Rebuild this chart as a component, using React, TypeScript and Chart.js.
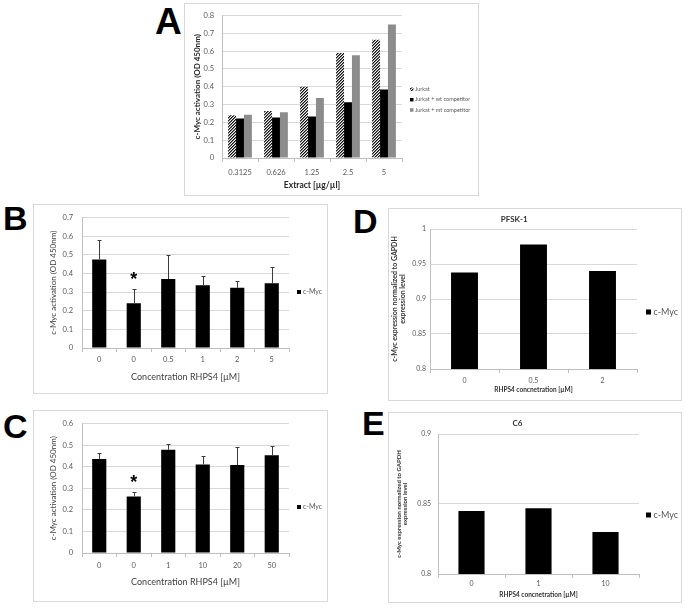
import React, { useEffect, useRef } from "react";
import { Chart, registerables } from "chart.js";
Chart.register(...registerables);

const SANS = "Lato, 'Liberation Sans', Arial, sans-serif";
Chart.defaults.font.family = SANS;

// ---------- Panel A ----------
const A_EXTRACT = ["0.3125", "0.626", "1.25", "2.5", "5"];
const A_JURKAT = [0.24, 0.264, 0.4, 0.59, 0.664];
const A_WT = [0.222, 0.228, 0.233, 0.313, 0.385];
const A_MT = [0.243, 0.257, 0.337, 0.577, 0.75];
const A_SERIES = ["Jurkat", "Jurkat + wt competitor", "Jurkat + mt competitor"];

// ---------- Panel B ----------
const B_CONC = ["0", "0", "0.5", "1", "2", "5"];
const B_VALUES = [0.475, 0.24, 0.37, 0.337, 0.323, 0.347];
const B_ERRORS = [0.105, 0.074, 0.128, 0.051, 0.034, 0.085];
const B_STARS = [1];

// ---------- Panel C ----------
const C_CONC = ["0", "0", "1", "10", "20", "50"];
const C_VALUES = [0.436, 0.262, 0.478, 0.41, 0.408, 0.453];
const C_ERRORS = [0.027, 0.019, 0.029, 0.041, 0.082, 0.042];
const C_STARS = [1];

// ---------- Panel D ----------
const D_CONC = ["0", "0.5", "2"];
const D_VALUES = [0.938, 0.978, 0.94];

// ---------- Panel E ----------
const E_CONC = ["0", "1", "10"];
const E_VALUES = [0.845, 0.847, 0.83];

const SERIES_CMYC = "c-Myc";

type Frame = { left: number; top: number; w: number; h: number };

const FRAME_A: Frame = { left: 184, top: 3, w: 295, h: 193 };
const FRAME_B: Frame = { left: 33, top: 204, w: 295, h: 190 };
const FRAME_C: Frame = { left: 33, top: 410, w: 295, h: 192 };
const FRAME_D: Frame = { left: 388, top: 208, w: 294, h: 193 };
const FRAME_E: Frame = { left: 388, top: 412, w: 294, h: 191 };

function hatchPattern(): CanvasPattern | string {
  const n = 3;
  const c = document.createElement("canvas");
  c.width = n;
  c.height = n;
  const g = c.getContext("2d")!;
  g.fillStyle = "#f2f2f2";
  g.fillRect(0, 0, n, n);
  for (let x = 0; x < n; x++) {
    const y = n - 1 - x;
    g.fillStyle = "#111111";
    g.fillRect(x, y, 1, 1);
    g.fillStyle = "#7a7a7a";
    g.fillRect(x, (y + 1) % n, 1, 1);
  }
  return g.createPattern(c, "repeat") || "#777";
}

function errorBarPlugin(errors: number[], stars: number[]) {
  return {
    id: "errorBars",
    afterDatasetsDraw(chart: any) {
      const meta = chart.getDatasetMeta(0);
      const ys = chart.scales.y;
      const values = chart.data.datasets[0].data as number[];
      const ctx = chart.ctx as CanvasRenderingContext2D;
      ctx.save();
      ctx.strokeStyle = "#3c3c3c";
      ctx.lineWidth = 1;
      meta.data.forEach((bar: any, i: number) => {
        const x = Math.round(bar.x) + 0.5;
        const top = Math.round(ys.getPixelForValue(values[i] + errors[i])) + 0.5;
        ctx.beginPath();
        ctx.moveTo(x, bar.y);
        ctx.lineTo(x, top);
        ctx.moveTo(x - 2, top);
        ctx.lineTo(x + 2, top);
        ctx.stroke();
      });
      ctx.fillStyle = "#000";
      ctx.font = "bold 18px 'Liberation Sans', Arial, sans-serif";
      ctx.textAlign = "center";
      ctx.textBaseline = "alphabetic";
      stars.forEach((i) => {
        const bar = meta.data[i];
        const top = ys.getPixelForValue(values[i] + errors[i]);
        ctx.fillText("*", bar.x, top - 4);
      });
      ctx.restore();
    },
  };
}

function legendPlugin(x: number, rows: number[], box: number, size: number, gap: number) {
  return {
    id: "sideLegend",
    afterDraw(chart: any) {
      const ctx = chart.ctx as CanvasRenderingContext2D;
      ctx.save();
      ctx.font = `${size}px ${SANS}`;
      ctx.textBaseline = "middle";
      ctx.textAlign = "left";
      chart.data.datasets.forEach((ds: any, i: number) => {
        const y = rows[i];
        ctx.fillStyle = ds.backgroundColor;
        ctx.fillRect(x, y - box / 2, box, box);
        ctx.fillStyle = "#595959";
        ctx.fillText(ds.label, x + box + gap, y);
      });
      ctx.restore();
    },
  };
}

type Spec = {
  W: number;
  H: number;
  plot: { l: number; t: number; r: number; b: number };
  labels: string[];
  datasets: any[];
  yMin: number;
  yMax: number;
  yStep: number;
  yTitle: string | string[];
  yTitleSize: number;
  yTitleBold: boolean;
  yTitleLH: number;
  yTitleX: number;
  yTickPad: number;
  tickSize: number;
  xTitle: string;
  xTitleSize: number;
  xTitleBold: boolean;
  xTitleY: number;
  xTickY: number;
  titleColor: string;
  chartTitle?: { text: string; size: number; y: number };
  barPct: number;
  catPct: number;
  plugins: any[];
};

function makeConfig(s: Spec): any {
  const yLH = s.yTitleSize * s.yTitleLH;
  const padLeft = s.yTitleX - yLH / 2;
  const yWidth = s.plot.l - padLeft;
  const xHeight = s.H - s.plot.b;
  const tickLen = 4;
  const xTickPad = s.xTickY - s.plot.b - tickLen - 0.6 * s.tickSize;
  const xLH = s.xTitleSize * 1.2;
  const xTitlePadBottom = s.H - s.xTitleY - xLH / 2;
  let padTop = s.plot.t;
  let titleOpt: any = { display: false };
  if (s.chartTitle) {
    padTop = 0;
    const lh = s.chartTitle.size * 1.2;
    const pt = s.chartTitle.y - lh / 2;
    const pb = s.plot.t - pt - lh;
    titleOpt = {
      display: true,
      text: s.chartTitle.text,
      color: "#333333",
      font: { size: s.chartTitle.size, weight: "bold", family: SANS, lineHeight: 1.2 },
      padding: { top: pt, bottom: pb },
    };
  }
  return {
    type: "bar",
    data: { labels: s.labels, datasets: s.datasets },
    options: {
      responsive: false,
      animation: false,
      devicePixelRatio: 1,
      layout: { padding: { left: padLeft, top: padTop, right: s.W - s.plot.r, bottom: 0 } },
      datasets: { bar: { barPercentage: s.barPct, categoryPercentage: s.catPct } },
      plugins: {
        legend: { display: false },
        tooltip: { enabled: false },
        title: titleOpt,
      },
      scales: {
        x: {
          type: "category",
          offset: true,
          grid: {
            display: true,
            offset: true,
            drawOnChartArea: false,
            drawTicks: true,
            tickLength: tickLen,
            color: "#bfbfbf",
            tickColor: "#bfbfbf",
          },
          border: { display: true, color: "#bfbfbf" },
          ticks: { color: "#595959", font: { size: s.tickSize, family: SANS }, padding: xTickPad, maxRotation: 0, autoSkip: false },
          title: {
            display: true,
            text: s.xTitle,
            color: s.titleColor,
            font: { size: s.xTitleSize, weight: s.xTitleBold ? "bold" : "normal", family: SANS, lineHeight: 1.2 },
            padding: { top: 0, bottom: xTitlePadBottom },
          },
          afterFit: (sc: any) => {
            sc.height = xHeight;
          },
        },
        y: {
          type: "linear",
          min: s.yMin,
          max: s.yMax,
          grid: { color: "#d9d9d9", drawTicks: false },
          border: { display: true, color: "#bfbfbf" },
          ticks: {
            stepSize: s.yStep,
            color: "#595959",
            font: { size: s.tickSize, family: SANS },
            padding: s.yTickPad,
            callback: (v: any) => String(parseFloat(Number(v).toFixed(3))),
          },
          title: {
            display: true,
            text: s.yTitle,
            color: s.titleColor,
            font: { size: s.yTitleSize, weight: s.yTitleBold ? "bold" : "normal", family: SANS, lineHeight: s.yTitleLH },
            padding: { top: 0, bottom: 0 },
          },
          afterFit: (sc: any) => {
            sc.width = yWidth;
          },
        },
      },
    },
    plugins: s.plugins,
  };
}

function configA(): any {
  const F = FRAME_A;
  return makeConfig({
    W: F.w,
    H: F.h,
    plot: { l: 38, t: 7, r: 218, b: 155 },
    labels: A_EXTRACT,
    datasets: [
      { label: A_SERIES[0], data: A_JURKAT, backgroundColor: hatchPattern(), borderWidth: 0 },
      { label: A_SERIES[1], data: A_WT, backgroundColor: "#000000", borderWidth: 0 },
      { label: A_SERIES[2], data: A_MT, backgroundColor: "#8c8c8c", borderWidth: 0 },
    ],
    yMin: 0,
    yMax: 0.8,
    yStep: 0.1,
    yTitle: "c-Myc activation (OD 450nm)",
    yTitleSize: 8,
    yTitleBold: true,
    yTitleLH: 1.2,
    yTitleX: 13,
    yTickPad: 8,
    tickSize: 7.5,
    xTitle: "Extract [µg/µl]",
    xTitleSize: 8.5,
    xTitleBold: true,
    xTitleY: 182,
    xTickY: 170,
    titleColor: "#262626",
    barPct: 1,
    catPct: 0.66,
    plugins: [legendPlugin(226, [86.3, 96.7, 107], 3.5, 5.5, 1.5)],
  });
}

function configBC(labels: string[], values: number[], errors: number[], stars: number[], yMax: number, F: Frame, plot: any, xTickY: number, xTitleY: number, legendY: number): any {
  return makeConfig({
    W: F.w,
    H: F.h,
    plot,
    labels,
    datasets: [{ label: SERIES_CMYC, data: values, backgroundColor: "#000000", borderWidth: 0 }],
    yMin: 0,
    yMax,
    yStep: 0.1,
    yTitle: "c-Myc activation (OD 450nm)",
    yTitleSize: 8,
    yTitleBold: false,
    yTitleLH: 1.2,
    yTitleX: 20,
    yTickPad: 9,
    tickSize: 7.5,
    xTitle: "Concentration RHPS4 [µM]",
    xTitleSize: 9,
    xTitleBold: false,
    xTitleY,
    xTickY,
    titleColor: "#404040",
    barPct: 0.41,
    catPct: 1,
    plugins: [errorBarPlugin(errors, stars), legendPlugin(264, [legendY], 4, 7, 2)],
  });
}

function configDE(labels: string[], values: number[], yMax: number, F: Frame, title: string, plot: any, yTitleSize: number, yTitleX: number, yTickPad: number, xTickY: number, xTitleY: number, legendY: number): any {
  return makeConfig({
    W: F.w,
    H: F.h,
    plot,
    labels,
    datasets: [{ label: SERIES_CMYC, data: values, backgroundColor: "#000000", borderWidth: 0 }],
    yMin: 0.8,
    yMax,
    yStep: 0.05,
    yTitle: ["c-Myc expression normalized to GAPDH", "expression level"],
    yTitleSize,
    yTitleBold: true,
    yTitleLH: 1.05,
    yTitleX,
    yTickPad,
    tickSize: 7,
    xTitle: "RHPS4 concnetration [µM]",
    xTitleSize: 6.5,
    xTitleBold: true,
    xTitleY,
    xTickY,
    titleColor: "#333333",
    chartTitle: { text: title, size: 8, y: 11 },
    barPct: 0.39,
    catPct: 1,
    plugins: [legendPlugin(258, [legendY], 5, 9, 2.5)],
  });
}

function ChartPanel({ frame, make }: { frame: Frame; make: () => any }) {
  const ref = useRef<HTMLCanvasElement>(null);
  useEffect(() => {
    const chart = new Chart(ref.current!, make());
    return () => chart.destroy();
  }, []);
  return (
    <>
      <div
        style={{
          position: "absolute",
          left: frame.left,
          top: frame.top,
          width: frame.w,
          height: frame.h,
          boxSizing: "border-box",
          border: "1px solid #d9d9d9",
        }}
      />
      <canvas
        ref={ref}
        width={frame.w}
        height={frame.h}
        style={{ position: "absolute", left: frame.left, top: frame.top, width: frame.w, height: frame.h }}
      />
    </>
  );
}

function Letter({ ch, left, capTop, size }: { ch: string; left: number; capTop: number; size: number }) {
  return (
    <div
      style={{
        position: "absolute",
        left,
        top: capTop - size * 0.1305,
        fontSize: size,
        lineHeight: 1,
        fontWeight: "bold",
        fontFamily: "'Liberation Sans', Arial, sans-serif",
        color: "#000",
      }}
    >
      {ch}
    </div>
  );
}

export default function App() {
  return (
    <div style={{ position: "fixed", left: 0, top: 0, width: 686, height: 608, background: "#fff", overflow: "hidden" }}>
      <ChartPanel frame={FRAME_A} make={configA} />
      <ChartPanel
        frame={FRAME_B}
        make={() => configBC(B_CONC, B_VALUES, B_ERRORS, B_STARS, 0.7, FRAME_B, { l: 49, t: 8, r: 256, b: 144 }, 156, 173, 88)}
      />
      <ChartPanel
        frame={FRAME_C}
        make={() => configBC(C_CONC, C_VALUES, C_ERRORS, C_STARS, 0.6, FRAME_C, { l: 49, t: 7, r: 256, b: 143 }, 156, 172, 97)}
      />
      <ChartPanel
        frame={FRAME_D}
        make={() => configDE(D_CONC, D_VALUES, 1, FRAME_D, "PFSK-1", { l: 42, t: 21, r: 249, b: 161 }, 7, 7, 4, 173, 182, 104)}
      />
      <ChartPanel
        frame={FRAME_E}
        make={() => configDE(E_CONC, E_VALUES, 0.9, FRAME_E, "C6", { l: 50, t: 22, r: 251, b: 162 }, 6, 11, 7, 172, 183, 103)}
      />
      <Letter ch="A" left={155} capTop={8} size={37} />
      <Letter ch="B" left={3} capTop={205} size={34} />
      <Letter ch="C" left={3} capTop={413} size={34} />
      <Letter ch="D" left={353} capTop={208} size={34} />
      <Letter ch="E" left={362} capTop={410} size={34} />
    </div>
  );
}
